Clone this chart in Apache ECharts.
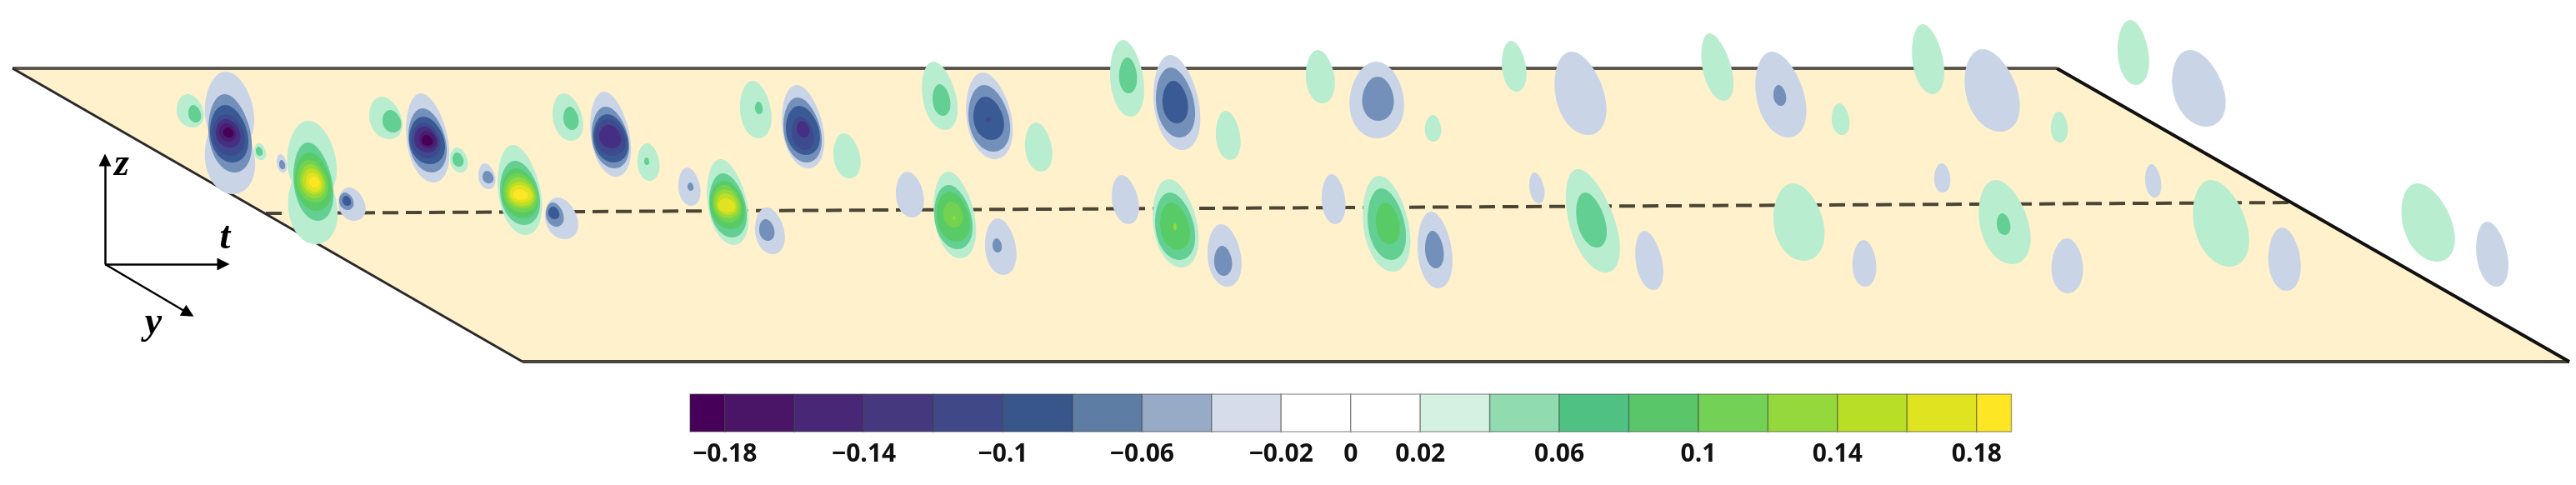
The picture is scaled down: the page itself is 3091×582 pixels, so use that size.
<!DOCTYPE html>
<html>
<head>
<meta charset="utf-8">
<style>html,body{margin:0;padding:0;background:#fff}#c{width:3091px;height:582px}</style>
<script src="https://cdn.jsdelivr.net/npm/echarts@6/dist/echarts.min.js"></script>
</head>
<body>
<div id="c"></div>
<script>
// Contour rows: [tMin, tMax, zMin, zMax, tilt, band value] (image-plane units).
const packet1 = [
 [212,244,113,153,.2,.03],[226,241,126,147,.2,.05],
 [246,304,86,180,.12,-.03],[246,305,140,233,.12,-.03],[250,301,113,207,.18,-.05],[252,297,126,195,.18,-.07],[255,293,137,187,.18,-.09],[259,288,143,177,.2,-.11],[263,283,148,170,.2,-.13],[268,280,153,165,.2,-.15],
 [305,319,172,192,.2,.03],[307,315,176,187,.2,.05],
 [332,344,185,207,.2,-.03],[335,342,192,203,.2,-.05],
 [345,403,145,240,.12,.03],[346,404,198,293,.12,.03],[352,399,171,265,.18,.05],[354,397,183,253,.18,.07],[356,393,192,243,.2,.09],[360,390,197,238,.2,.11],[363,388,202,233,.2,.13],[367,385,207,230,.2,.15],[371,383,212,225,.2,.17],
 [406,438,225,265,.22,-.03],[407,424,231,252,.22,-.05],[411,421,235,247,.22,-.07]
];
const packet2 = [
 [443,482,116,167,.25,.03],[459,481,132,159,.2,.05],
 [487,538,112,219,.2,-.03],[490,535,130,207,.2,-.05],[491,533,140,197,.2,-.07],[494,528,147,190,.2,-.09],[497,525,152,183,.22,-.11],[503,523,157,178,.22,-.13],[506,519,162,175,.22,-.15],
 [540,561,177,207,.2,.03],[543,556,183,200,.2,.05],
 [574,594,196,227,.2,-.03],[579,592,205,220,.2,-.05],
 [597,649,174,282,.2,.03],[600,647,193,270,.2,.05],[602,645,202,262,.2,.07],[604,644,208,255,.2,.09],[607,642,213,250,.2,.11],[610,640,218,247,.2,.13],[612,638,222,243,.2,.15],[616,633,227,240,.2,.17],
 [654,693,237,287,.25,-.03],[655,676,243,272,.22,-.05],[658,671,248,263,.2,-.07]
];
const packet3 = [
 [663,699,112,169,.22,.03],[676,694,128,156,.15,.05],
 [708,756,110,212,.2,-.03],[710,754,128,202,.2,-.05],[712,753,137,195,.2,-.07],[714,750,143,187,.2,-.09],[719,745,150,178,.2,-.11],
 [765,791,172,217,.1,.03],[773,779,189,198,.1,.05],
 [814,840,201,247,.15,-.03],[825,832,219,229,.1,-.05],
 [848,897,191,294,.22,.03],[851,895,208,285,.2,.05],[852,893,217,275,.2,.07],[855,889,222,267,.2,.09],[857,887,227,262,.2,.11],[860,884,232,258,.2,.13],[862,882,238,255,.2,.15],
 [906,941,249,305,.18,-.03],[911,929,263,289,.15,-.05]
];
const packet4 = [
 [888,925,97,166,.15,.03],[906,915,122,137,.1,.05],
 [938,988,102,202,.2,-.03],[940,985,117,195,.2,-.05],[943,983,127,186,.2,-.07],[950,976,140,180,.2,-.09],[956,971,145,165,.2,-.11],
 [1000,1032,160,214,.18,.03],
 [1075,1108,206,261,.15,-.03],
 [1120,1170,206,310,.2,.03],[1121,1166,222,299,.2,.05],[1124,1163,230,290,.2,.07],[1132,1155,242,273,.15,.09],[1143,1147,259,264,.1,.11],
 [1182,1219,262,330,.14,-.03],[1191,1202,286,303,.12,-.05]
];
const packet5 = [
 [1106,1148,74,156,.24,.03],[1119,1140,101,139,.15,.05],
 [1159,1214,87,191,.2,-.03],[1162,1211,102,182,.2,-.05],[1168,1204,116,168,.2,-.07],[1183,1189,140,146,0,-.09],
 [1230,1262,147,206,.15,.03],
 [1332,1372,48,140,.14,.03],[1343,1364,69,112,.05,.05],
 [1384,1439,66,180,.18,-.03],[1387,1433,81,165,.18,-.05],[1395,1425,97,148,.12,-.07],
 [1459,1488,133,192,.13,.03],
 [1334,1366,210,269,.2,-.03],
 [1383,1437,215,321,.2,.03],[1386,1433,231,312,.2,.05],[1392,1427,243,300,.2,.07],[1408,1412,268,276,.1,.11],
 [1449,1489,269,344,.14,-.03],[1457,1478,295,331,.08,-.05]
];
const packet6 = [
 [1567,1601,60,124,.12,.03],
 [1620,1684,74,166,.02,-.03],[1635,1672,92,145,.02,-.05],
 [1710,1729,138,170,.02,.03],
 [1586,1614,209,269,.1,-.03],
 [1635,1691,211,326,.2,.03],[1641,1686,226,312,.2,.05],[1651,1679,243,293,.15,.07],
 [1701,1742,254,346,.13,-.03],[1710,1732,277,322,.13,-.05],
 [1802,1831,49,110,.15,.03],
 [1865,1926,62,162,.28,-.03],
 [1835,1853,207,244,.2,-.03],
 [1878,1942,203,327,.38,.03],[1891,1927,231,297,.3,.05],
 [1962,1995,277,348,.22,-.03]
];
const packet7 = [
 [2041,2079,40,121,.3,.03],
 [2106,2166,62,165,.27,-.03],[2128,2143,102,127,.15,-.05],
 [2198,2219,124,162,.12,.03],
 [2128,2188,220,313,.2,.03],
 [2223,2251,288,344,.05,-.03],
 [2294,2332,29,113,.2,.03],
 [2357,2422,59,158,.3,-.03],
 [2461,2481,134,171,.05,.03],
 [2321,2340,196,231,.05,-.03],
 [2374,2435,216,317,.28,.03],[2396,2412,256,282,.15,.05],
 [2462,2499,286,352,.02,-.03],
 [2574,2593,197,237,.15,-.03],
 [2631,2697,216,320,.3,.03],
 [2722,2760,273,349,.1,-.03],
 [2541,2578,24,102,.13,.03],
 [2606,2669,60,152,.3,-.03],
 [2881,2944,220,314,.35,.03],
 [2971,3009,266,344,.2,-.03]
];
const positiveBandColors = ['#B9EDCF','#63CF92','#58CB66','#72D352','#97D83A','#BDDF25','#E2E320','#FDE725'];
const negativeBandColors = ['#C9D5E7','#7390BA','#3A5A96','#3F4A8E','#452F82','#4B1D6E','#470055'];

const planeCorners = [[15,82],[2468,82],[3083,434],[627,434]];
const centerLine = [[319,256],[2751,243]];
const axisOrigin = [126,317];
const axisTips = [[126,192],[268,317],[226,376]];
const axisNames = ['z','t','y'];
const axisNameSpots = [[146,198],[270,286],[184,388]];

const barEdges = [-.19,-.18,-.16,-.14,-.12,-.10,-.08,-.06,-.04,-.02,0,.02,.04,.06,.08,.10,.12,.14,.16,.18,.19];
const barColors = ['#47005A','#4A1566','#482876','#46387E','#404888','#38568A','#5E7DA5','#97ABC6','#D5DDEA','#FFFFFF','#FFFFFF','#D4F1E2','#90DCB0','#4FC283','#59C669','#73D255','#95D83B','#B8DE26','#DFE320','#FDE725'];
const barTicks = [-.18,-.14,-.1,-.06,-.02,0,.02,.06,.1,.14,.18];

const contours = [].concat(packet1,packet2,packet3,packet4,packet5,packet6,packet7);
const barCells = barColors.map((c,i)=>[barEdges[i],barEdges[i+1],c]);

function renderContour(params, api){
  const x0=api.value(0),x1=api.value(1),y0=api.value(2),y1=api.value(3),s=api.value(4)*.7,v=api.value(5);
  const cx=(x0+x1)/2,cy=(y0+y1)/2,hx=(x1-x0)/2,ry=(y1-y0)/2;
  const rx=Math.sqrt(Math.max(hx*hx-s*s*ry*ry,0.2*hx*hx))*1.02;
  const pts=[];
  for(let k=0;k<60;k++){
    const a=k/60*Math.PI*2,ux=Math.cos(a),uy=Math.sin(a);
    pts.push(api.coord([cx+rx*ux*(1+.11*uy)+s*ry*uy,cy+ry*uy]));
  }
  const idx=Math.max(0,Math.round((Math.abs(v)-.01)/.02)-1);
  const col=v>0?positiveBandColors[idx]:negativeBandColors[idx];
  return {type:'polygon',shape:{points:pts},style:{fill:col}};
}
const chart=echarts.init(document.getElementById('c'),null,{renderer:'canvas'});
chart.setOption({
  animation:false,
  backgroundColor:'#fff',
  grid:[
    {left:0,top:0,width:3091,height:582},
    {left:828,top:473,width:1585.5,height:45}
  ],
  xAxis:[
    {type:'value',min:0,max:3091,show:false},
    {type:'value',gridIndex:1,min:-.19,max:.19,splitLine:{show:false},axisLine:{show:false},axisTick:{show:false},
     axisLabel:{show:true,customValues:barTicks,margin:12,fontFamily:'Open Sans',fontSize:30,fontWeight:700,color:'#111',
       hideOverlap:false,showMinLabel:true,showMaxLabel:true,
       formatter:v=>{const r=Math.round(v*100)/100;return r<0?'\u2212'+String(-r):String(r);}}}
  ],
  yAxis:[
    {type:'value',min:0,max:582,inverse:true,show:false},
    {type:'value',gridIndex:1,min:0,max:1,show:false}
  ],
  series:[
    {type:'custom',z:1,silent:true,data:[planeCorners.flat()],
     renderItem:(p,api)=>({type:'polygon',shape:{points:planeCorners.map(c=>api.coord(c))},style:{fill:'#FFF1CC'}}),clip:false,encode:{x:[0,2,4,6],y:[1,3,5,7]}},
    {type:'lines',z:2,coordinateSystem:'cartesian2d',silent:true,data:[{coords:centerLine}],
     lineStyle:{color:'#4A4535',width:4,type:[19,9],opacity:1,cap:'butt'}},
    {type:'lines',z:2,coordinateSystem:'cartesian2d',silent:true,
     data:[{coords:[planeCorners[0],planeCorners[1]],lineStyle:{color:'#5A5650',width:4}},
           {coords:[planeCorners[3],planeCorners[2]],lineStyle:{color:'#45443C',width:4}},
           {coords:[planeCorners[0],planeCorners[3]],lineStyle:{color:'#2A2A2A',width:3}},
           {coords:[planeCorners[1],planeCorners[2]],lineStyle:{color:'#111',width:4}}],
     lineStyle:{opacity:1}},
    {type:'custom',z:3,silent:true,data:contours,renderItem:renderContour,clip:false,encode:{x:[0,1],y:[2,3]}},
    {type:'lines',z:4,coordinateSystem:'cartesian2d',silent:true,
     data:axisTips.map(t=>({coords:[axisOrigin,t]})),
     symbol:['none','triangle'],symbolSize:[0,15],
     lineStyle:{color:'#000',width:2.5,opacity:1}},
    {type:'custom',z:4,silent:true,data:axisNameSpots,clip:false,encode:{x:0,y:1},
     renderItem:(p,api)=>{const c=api.coord([api.value(0),api.value(1)]);
       return {type:'text',x:c[0],y:c[1],style:{text:axisNames[p.dataIndex],fontFamily:'Liberation Serif',fontStyle:'italic',fontWeight:'bold',fontSize:46,fill:'#000',align:'center',verticalAlign:'middle'}};}},
    {type:'custom',xAxisIndex:1,yAxisIndex:1,z:2,silent:true,data:barCells,encode:{x:[0,1]},
     renderItem:(p,api)=>{
       const a=api.coord([api.value(0),1]),b=api.coord([api.value(1),0]);
       return {type:'rect',shape:{x:a[0],y:a[1],width:b[0]-a[0],height:b[1]-a[1]},
         style:{fill:barColors[p.dataIndex],stroke:'rgba(60,60,60,0.45)',lineWidth:1.5}};}}
  ]
});
</script>
</body>
</html>
